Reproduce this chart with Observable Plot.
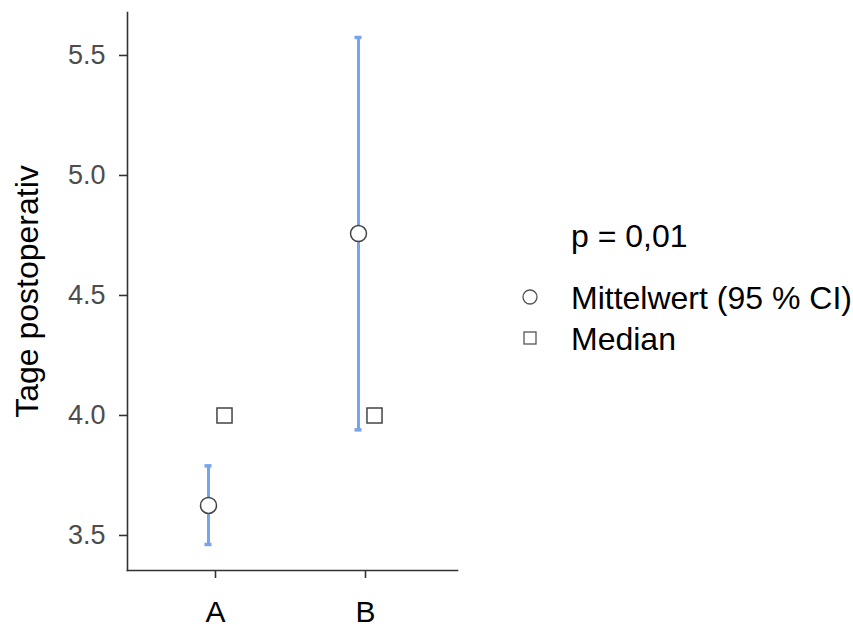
<!DOCTYPE html>
<html>
<head>
<meta charset="utf-8">
<script src="https://cdn.jsdelivr.net/npm/d3@7"></script>
<script src="https://cdn.jsdelivr.net/npm/@observablehq/plot@0.6"></script>
<style>
  body { margin: 0; background: #fff; font-family: "Liberation Sans", Arial, sans-serif; }
  #wrap { position: relative; width: 853px; height: 625px; }
  #chart svg { overflow: visible; }
  #chart svg [aria-label="y-axis tick label"] { fill: #4d4d4d; font-size: 27px; }
  #chart svg [aria-label="x-axis tick label"] { fill: #000; font-size: 30px; }
  #chart svg [aria-label="y-axis label"] { fill: #000; font-size: 32px; }
  #legend { position: absolute; left: 0; top: 0; pointer-events: none; }
</style>
</head>
<body>
<div id="wrap">
  <div id="chart"></div>
  <svg id="legend" width="853" height="625"></svg>
</div>
<script>
const groups = ["A", "B"];
const means = [3.625, 4.758];
const ciLow = [3.4625, 3.94];
const ciHigh = [3.79, 5.575];
const medians = [4.0, 4.0];
const yTicks = [3.5, 4.0, 4.5, 5.0, 5.5];
const pText = "p = 0,01";
const legendLabels = ["Mittelwert (95 % CI)", "Median"];
const legendSymbols = ["circle", "square"];

const data = groups.map((g, i) => ({g, mean: means[i], lo: ciLow[i], hi: ciHigh[i], med: medians[i]}));

const barColor = "#77a5ec";
const dotStroke = "#444";

const plot = Plot.plot({
  width: 853,
  height: 625,
  marginLeft: 127,
  marginRight: 396,
  marginTop: 12,
  marginBottom: 55,
  style: { fontFamily: "Liberation Sans, Arial, sans-serif", background: "transparent" },
  x: { type: "point", domain: groups, range: [215, 365], padding: 0, label: null },
  y: { domain: [3.354, 5.679], ticks: yTicks, tickFormat: d3.format(".1f"), label: "Tage postoperativ" },
  marks: [
    Plot.axisY({ ticks: yTicks, tickFormat: d3.format(".1f"), tickSize: 8, tickPadding: 14, stroke: "#333", strokeWidth: 1.6, label: "Tage postoperativ", labelAnchor: "center", labelArrow: "none", labelOffset: 112 }),
    Plot.axisX({ tickSize: 8, tickPadding: 22, stroke: "#333", strokeWidth: 1.6, label: null }),
    Plot.frame({ anchor: "left", stroke: "#333", strokeWidth: 1.6 }),
    Plot.frame({ anchor: "bottom", stroke: "#333", strokeWidth: 1.6 }),
    Plot.ruleX(data, { x: "g", y1: "lo", y2: "hi", dx: -7, stroke: barColor, strokeWidth: 3 }),
    Plot.ruleY(data, { y: "lo", x1: "g", x2: "g", dx: -7, insetLeft: -3.5, insetRight: -3.5, stroke: barColor, strokeWidth: 3.5 }),
    Plot.ruleY(data, { y: "hi", x1: "g", x2: "g", dx: -7, insetLeft: -3.5, insetRight: -3.5, stroke: barColor, strokeWidth: 3.5 }),
    Plot.dot(data, { x: "g", y: "mean", dx: -7, r: 8, fill: "white", stroke: dotStroke, strokeWidth: 1.5 }),
    Plot.dot(data, { x: "g", y: "med", dx: 9, symbol: "square", r: 8.5, fill: "white", stroke: dotStroke, strokeWidth: 1.5 })
  ]
});
document.getElementById("chart").appendChild(plot);

// legend (drawn outside the plot area, as in the reference)
const lg = d3.select("#legend");
const font = "Liberation Sans, Arial, sans-serif";
lg.append("text").attr("x", 571).attr("y", 247).attr("font-family", font).attr("font-size", 32).attr("fill", "#000").text(pText);
legendLabels.forEach((lab, i) => {
  const cy = 297 + i * 41;
  if (legendSymbols[i] === "circle") {
    lg.append("circle").attr("cx", 530).attr("cy", cy).attr("r", 7).attr("fill", "white").attr("stroke", "#555").attr("stroke-width", 1.3);
  } else {
    lg.append("rect").attr("x", 524).attr("y", cy - 6).attr("width", 12).attr("height", 12).attr("fill", "white").attr("stroke", "#555").attr("stroke-width", 1.3);
  }
  lg.append("text").attr("x", 571).attr("y", cy + 11.5).attr("font-family", font).attr("font-size", 32).attr("fill", "#000").text(lab);
});
</script>
</body>
</html>
